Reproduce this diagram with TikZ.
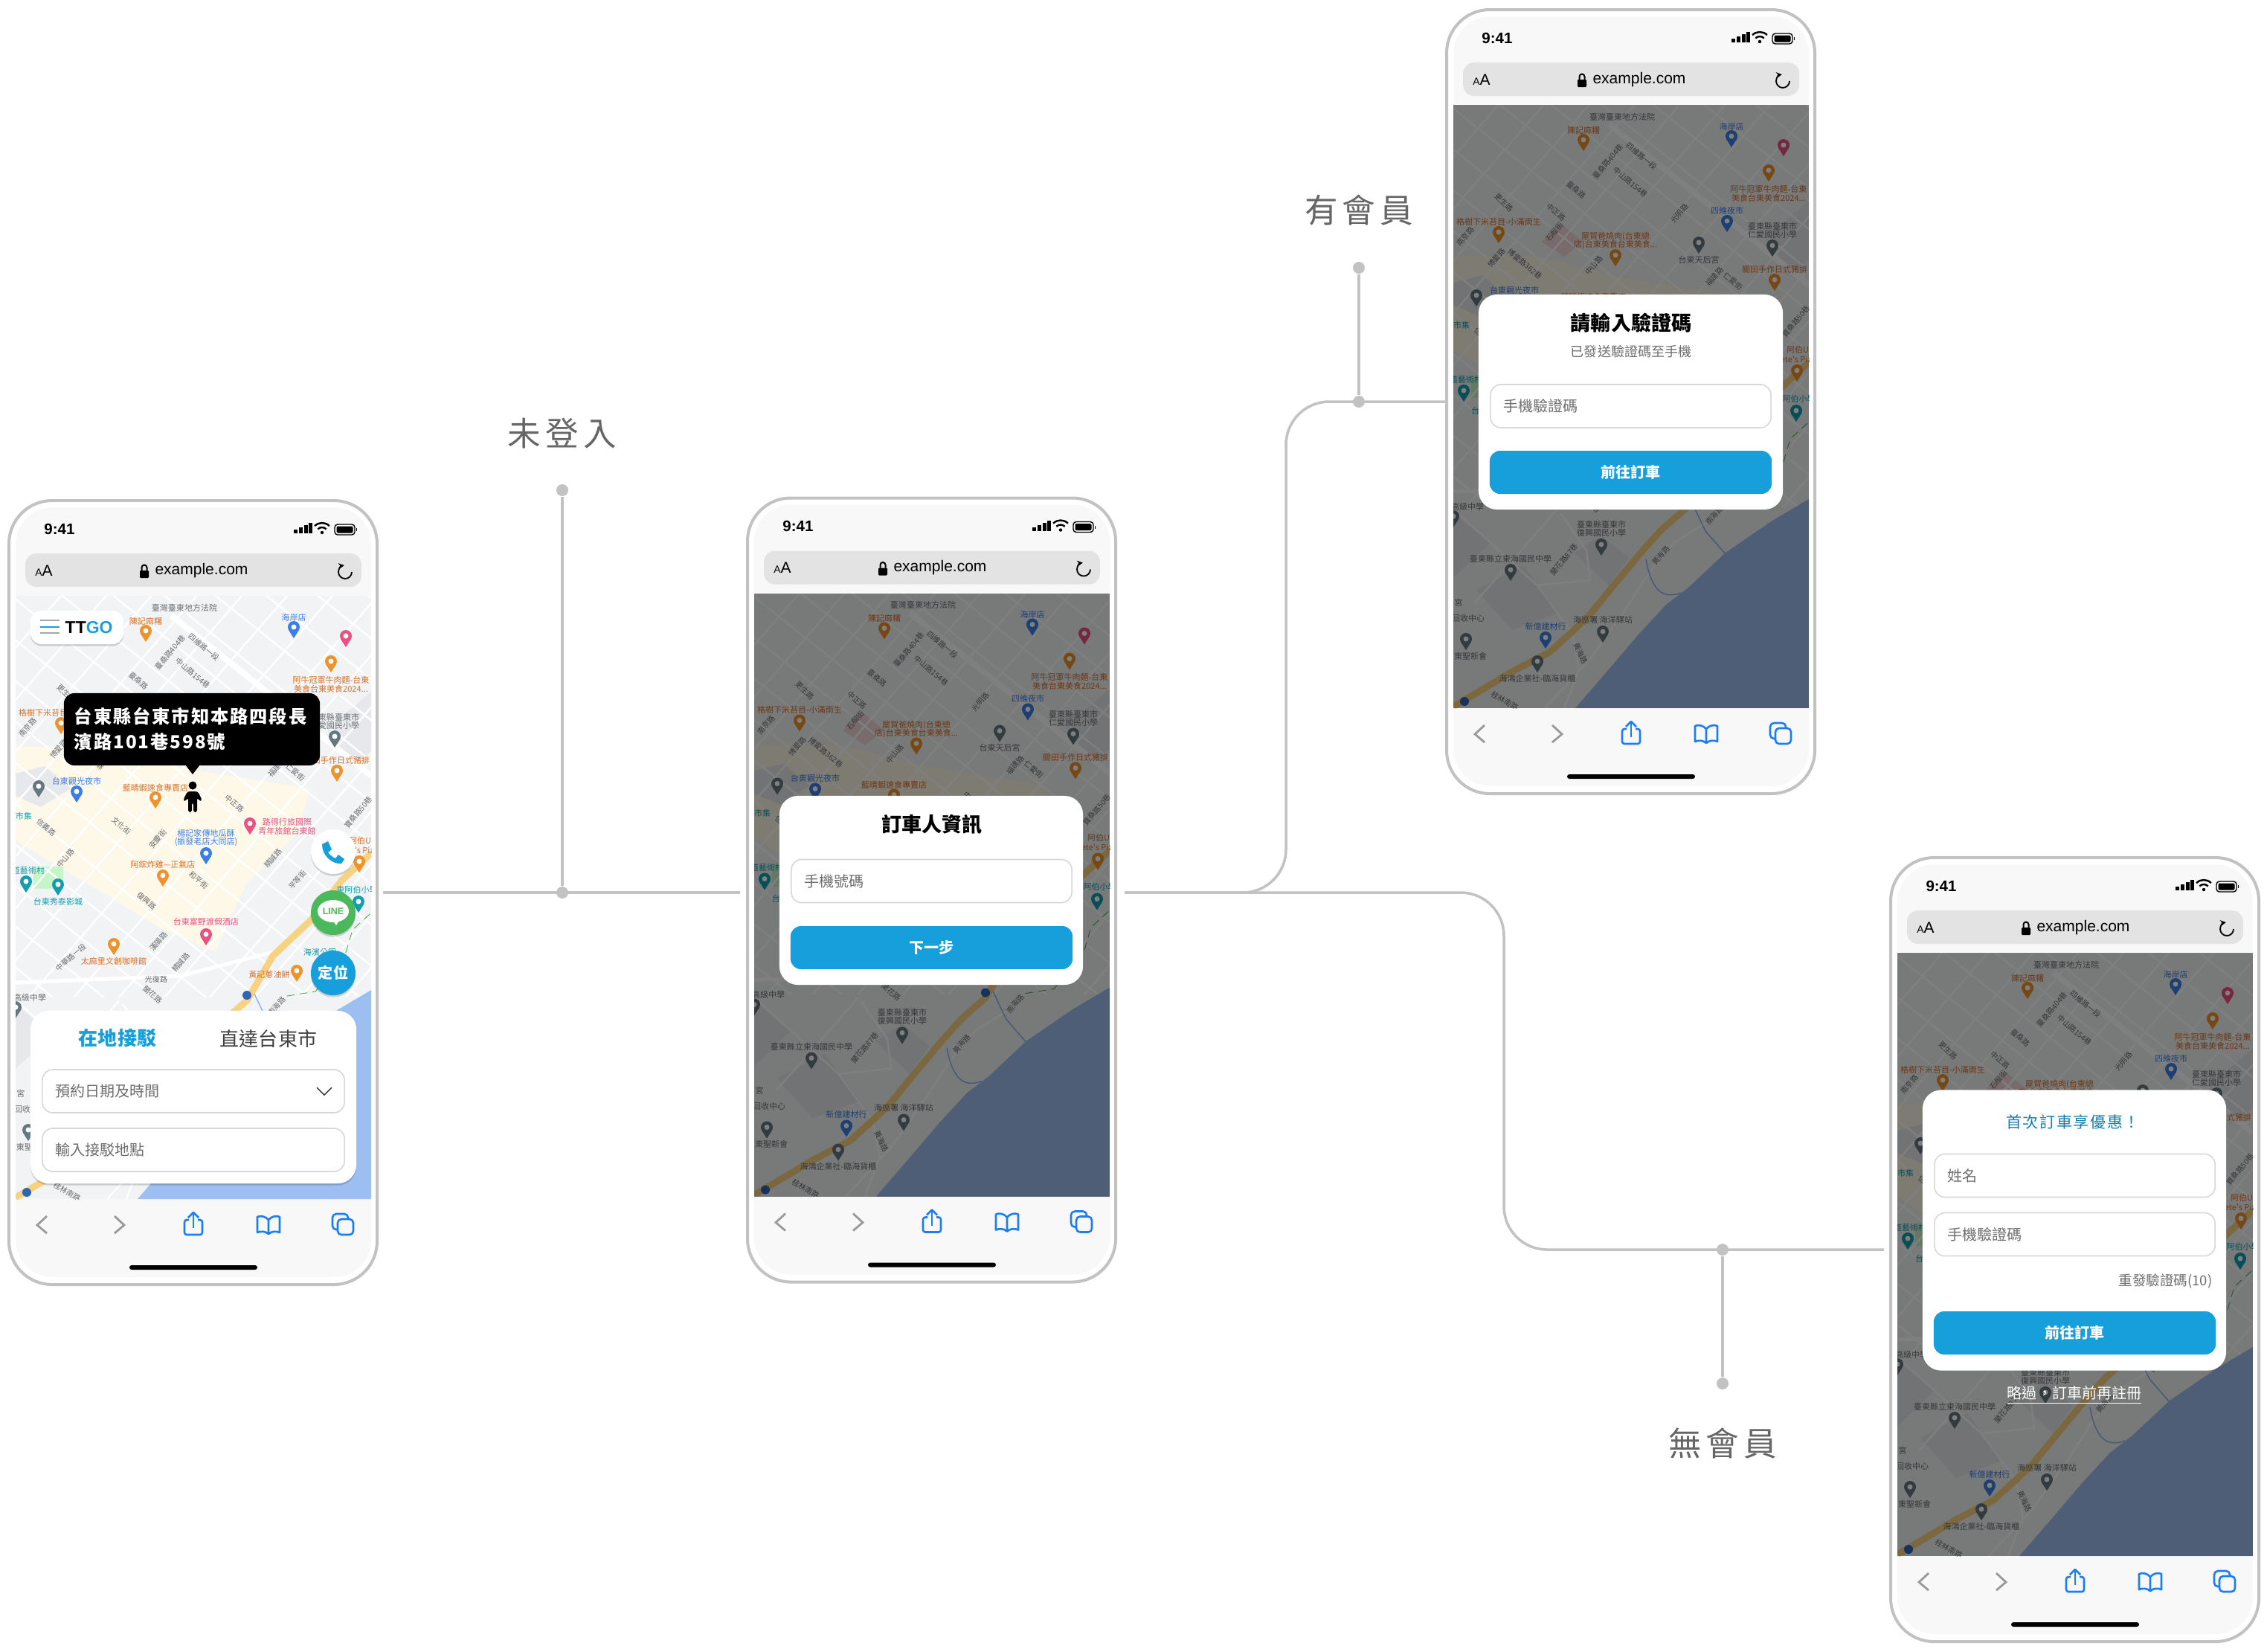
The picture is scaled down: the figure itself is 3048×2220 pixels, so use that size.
\documentclass[tikz,border=0pt]{standalone}
\usepackage{fontspec}
\usepackage{xcolor}
\usetikzlibrary{arrows.meta, shadows}
\setmainfont{Liberation Sans}
\newfontfamily\cjk{Noto Sans CJK TC}
\newfontfamily\cjkwide[LetterSpace=14]{Noto Sans CJK TC}
\newfontfamily\cjkpop[LetterSpace=8]{Noto Sans CJK TC}
\definecolor{linegray}{HTML}{C2C2C2}
\definecolor{labelgray}{HTML}{666666}
\definecolor{barwhite}{HTML}{F8F8F8}
\definecolor{urlgray}{HTML}{E3E3E3}
\definecolor{fieldgray}{HTML}{D8D8D8}
\definecolor{hintgray}{HTML}{6E6E6E}
\definecolor{btnblue}{HTML}{179FDC}
\definecolor{iconblue}{HTML}{1C7EF2}
\definecolor{linegreen}{HTML}{4CB85C}
\definecolor{landgray}{HTML}{F1F3F4}
\definecolor{blockgray}{HTML}{E6E8EB}
\definecolor{townyellow}{HTML}{FEF8E8}
\definecolor{seablue}{HTML}{9DBEF0}
\definecolor{roadgold}{HTML}{F8D283}
\definecolor{foodorange}{HTML}{EE922C}
\definecolor{textorange}{HTML}{D8702A}
\definecolor{shopblue}{HTML}{3B7FE6}
\definecolor{hotelpink}{HTML}{EC4F80}
\definecolor{placegray}{HTML}{66787F}
\definecolor{textgray}{HTML}{6A6E72}
\definecolor{parkteal}{HTML}{129EAF}
% sizes are given in pixels of the 3048 wide canvas
\newcommand{\fs}[1]{\fontsize{\fpeval{#1*0.2845}}{\fpeval{#1*0.34}}\selectfont}
\newcommand{\tdots}{...}
\tikzset{
  flow/.style={draw=linegray, line width=0.035cm},
  flowdot/.style={circle, fill=linegray, minimum size=0.16cm, inner sep=0},
  flowlabel/.style={font=\cjkwide\fs{44.5}, text=labelgray},
  softshadow/.style={drop shadow={shadow xshift=0cm, shadow yshift=-0.025cm, opacity=0.16, fill=black}},
  card/.style={fill=white, rounded corners=0.25cm, inner sep=0},
  field/.style={draw=fieldgray, line width=0.016cm, fill=white, rounded corners=0.14cm,
    minimum height=0.58cm, inner xsep=0.18cm, inner ysep=0, text width=3.41cm, align=left,
    font=\cjk\fs{20}, text=hintgray},
  button/.style={fill=btnblue, rounded corners=0.14cm, minimum width=3.79cm, minimum height=0.58cm,
    inner sep=0, font=\cjk\bfseries\fs{20}, text=white},
  cardtitle/.style={font=\cjk\bfseries\fs{27}, inner sep=0},
  roundbtn/.style={circle, minimum size=0.6cm, inner sep=0, softshadow},
  maplabel/.style={font=\cjk\fs{11}, inner sep=0},
  streetlabel/.style={font=\cjk\fs{10}, inner sep=0, text=textgray},
  street/.style={draw=white, line width=0.024cm},
  mainroad/.style={draw=white, line width=0.08cm},
  chevron/.style={draw=gray!80, line width=0.028cm},
  baricon/.style={draw=iconblue, line width=0.026cm, line join=round},
}
% the same town map sits under all four screens
\newcommand{\mapview}{
  \begin{scope}
    \clip (21,801) rectangle (499,1612);
    \fill[landgray] (21,801) rectangle (499,1612);
    \fill[townyellow] (21,1004) -- (130,1004) -- (260,1035) -- (417,1060) -- (400,1120) -- (330,1190)
      -- (290,1280) -- (220,1250) -- (21,1130) -- cycle;
    \fill[blockgray] (21,1070) -- (55,1085) -- (95,1060) -- (60,1030) -- (21,1040) -- cycle;
    \fill[blockgray] (440,980) -- (499,930) -- (499,1010) -- (470,1030) -- cycle;
    \fill[blockgray] (52,1453) -- (100,1507) -- (163,1483) -- (115,1420) -- cycle;
    \fill[blockgray] (184,1403) -- (230,1447) -- (257,1410) -- (220,1380) -- cycle;
    \fill[blockgray] (21,1437) -- (70,1390) -- (21,1350) -- cycle;
    \fill[green!18!landgray] (45,1165) rectangle (85,1195);
    \fill[red!12!landgray] (140,985) -- (165,960) -- (195,985) -- (170,1005) -- cycle;
    % street grid, upper part only
    \begin{scope}
      \clip (21,801) rectangle (499,1340);
      \foreach \k in {-380,-325,...,810}
        \draw[street] (0,784+\k) -- (520,1200+\k);
      \foreach \m in {0,70,...,1360}
        \draw[street] (0,825+\m) -- (520,227+\m);
    \end{scope}
    \draw[mainroad] (230,827) -- (499,1043);
    \draw[mainroad, line width=0.05cm] (21,1321) -- (243,1312) -- (367,1280);
    \draw[street] (24,1347) -- (134,1447) -- (180,1510) -- (190,1560) -- (170,1612);
    \draw[street] (360,1363) -- (317,1390) -- (284,1430) -- (250,1483) -- (204,1547) -- (144,1612);
    \draw[street] (50,1470) -- (130,1380) -- (160,1345);
    \draw[street] (134,1447) -- (205,1440) -- (200,1400) -- (165,1350);
    % river and trail
    \draw[shopblue!60, line width=0.014cm] (340,1332) -- (360,1374) -- (387,1405);
    \draw[shopblue!60, line width=0.014cm] (280,1412) .. controls (287,1450) and (300,1467) .. (327,1457);
    \draw[green!55!black!70, line width=0.009cm, densely dashed] (497,1229) -- (474,1250) -- (464,1284) -- (424,1333) -- (380,1340);
    \draw[draw=roadgold, line width=0.09cm] (499,1147) -- (460,1183) -- (417,1238) -- (367,1285) -- (332,1345)
      -- (300,1373) -- (274,1402) -- (234,1450) -- (204,1487) -- (180,1510) -- (150,1537) -- (100,1563)
      -- (60,1587) -- (21,1610);
    \fill[seablue] (499,1331) -- (450,1360) -- (387,1403) -- (337,1450) -- (307,1473) -- (270,1513)
      -- (230,1560) -- (185,1612) -- (499,1612) -- cycle;
    % map texts
    \foreach \lx/\ly/\lc/\lt [count=\n] in {
      248/817/textgray/臺灣臺東地方法院, 196/835/textorange/陳記麻糬, 395/830/shopblue/海岸店,
      445/914/textorange/阿牛冠軍牛肉麵-台東, 445/926/textorange/美食台東美食2024\tdots,
      389/943/shopblue/四維夜市, 450/964/textgray/臺東縣臺東市, 450/975/textgray/仁愛國民小學,
      82/958/textorange/格樹下米苔目-小滿雨生, 239/978/textorange/屋賀爸燒肉(台東總,
      239/989/textorange/店)台東美食台東美食\tdots, 351/1009/textgray/台東天后宮,
      453/1022/textorange/關田手作日式豬排, 103/1050/shopblue/台東觀光夜市,
      209/1059/textorange/藍晴蝦速食專賣店, 32/1097/parkteal/市集, 38/1170/parkteal/道藝術村,
      277/1120/shopblue/楊記家傳地瓜酥, 277/1132/shopblue/(振發老店大同店),
      386/1105/hotelpink/路得行旅國際, 386/1117/hotelpink/青年旅館台東館,
      219/1162/textorange/阿鋐炸雞—正氣店, 78/1212/parkteal/台東秀泰影城,
      277/1239/hotelpink/台東富野渡假酒店, 153/1292/textorange/太麻里文創咖啡館,
      362/1310/textorange/黃記蔥油餅, 430/1280/parkteal/海濱公園, 480/1196/parkteal/東阿伯小學,
      484/1130/textorange/阿伯U, 484/1143/textorange/Pete's Pizza,
      40/1341/textgray/高級中學, 220/1365/textgray/臺東縣臺東市, 220/1376/textgray/復興國民小學,
      98/1411/textgray/臺東縣立東海國民中學, 28/1470/textgray/宮, 41/1491/textgray/回收中心,
      44/1542/textgray/東聖新會, 145/1502/shopblue/新億建材行, 222/1493/textgray/海巡署 海洋驛站,
      134/1572/textgray/海鴻企業社-臨海貨櫃}
      \node[maplabel, text=\lc] (lbl\n) at (\lx,\ly) {\lt};
    \foreach \sx/\sy/\sr/\st [count=\n] in {
      274/870/-40/四維路一段, 259/905/-40/中山路154巷, 229/877/50/臺桑路404巷, 186/915/-40/臺桑路,
      89/932/-45/更生路, 159/945/-40/中正路, 157/972/50/石榴街, 325/947/50/光明路, 210/1017/50/中山路,
      79/1007/50/博愛路, 117/1015/-40/博愛路362巷, 37/978/50/南京路, 372/1032/50/福建路, 397/1038/-40/仁愛街,
      315/1080/-40/中正路, 482/1092/50/寶桑路50巷, 163/1110/-40/文化街, 212/1128/50/安慶街, 62/1112/-40/信義路,
      88/1154/50/中山路, 367/1154/50/精誠路, 267/1183/-40/和平街, 400/1183/50/平等街, 197/1211/-40/復興路,
      213/1266/50/漢陽路, 243/1294/50/精誠路, 95/1287/40/中華路一段, 210/1317/0/光復路, 205/1337/-40/蘭花路,
      372/1353/50/南海路, 300/1407/50/黃海路, 192/1538/-65/黃海路, 170/1412/50/蘭花路87巷, 90/1602/-30/桂林南路}
      \node[streetlabel, rotate=\sr] (st\n) at (\sx,\sy) {\st};
    % pins
    \foreach \px/\py/\pc in {
      196/851/foodorange, 395/846/shopblue, 465/858/hotelpink, 445/892/foodorange, 389/960/shopblue,
      450/993/placegray, 82/975/foodorange, 239/1006/foodorange, 351/989/placegray, 453/1039/foodorange,
      103/1067/shopblue, 52/1060/placegray, 209/1075/foodorange, 35/1188/parkteal, 277/1150/shopblue,
      336/1110/hotelpink, 219/1180/foodorange, 78/1192/parkteal, 277/1259/hotelpink, 153/1272/foodorange,
      399/1308/foodorange, 483/1161/foodorange, 482/1215/parkteal, 21/1357/placegray, 220/1395/placegray,
      98/1429/placegray, 38/1522/placegray, 145/1520/shopblue, 222/1512/placegray, 134/1552/placegray}
    {
      \fill[\pc] (\px,\py-3) circle[radius=8];
      \fill[\pc] (\px-7,\py+1) -- (\px,\py+12) -- (\px+7,\py+1) -- cycle;
      \fill[white] (\px,\py-3) circle[radius=3.5];
    }
    % highway badges
    \foreach \bx/\by in {332/1338, 36/1603}
      \fill[shopblue!80!black] (\bx,\by) circle[radius=6];
  \end{scope}
}
% frame, bars and the icons that all four phones share
\newcommand{\phonebase}[1]{
  \draw[draw=linegray, line width=0.04cm, fill=white, rounded corners=0.58cm] (12,673) rectangle (507,1727);
  \fill[barwhite, rounded corners=0.5cm] (21,682) rectangle (499,1717);
  \mapview
  \fill[black, opacity=#1] (21,801) rectangle (499,1612);
  % status line
  \node[font=\bfseries\fs{20.5}, inner sep=0] (clock) at (80,711) {9:41};
  \foreach \bx/\bh in {395/5, 402/8, 409/11, 415/14}
    \fill[black] (\bx,717) rectangle (\bx+4.5,717-\bh);
  \fill[black] (433,716) circle[radius=2.2];
  \draw[line width=0.024cm] (433,717) ++(-135:8) arc[start angle=-135, end angle=-45, radius=8];
  \draw[line width=0.024cm] (433,717) ++(-135:14) arc[start angle=-135, end angle=-45, radius=14];
  \draw[line width=0.014cm, rounded corners=0.04cm] (450,705) rectangle (477,719);
  \fill[black, rounded corners=0.02cm] (452.5,707.5) rectangle (474.5,716.5);
  \fill[black] (478.5,710) rectangle (480,714);
  % address bar
  \fill[urlgray, rounded corners=0.15cm] (34,744) rectangle (486,789);
  \node[inner sep=0] (aa) at (59,767) {\fs{14}A\fs{21}A};
  \fill[black, rounded corners=0.012cm] (188,767) rectangle (200,777);
  \draw[line width=0.02cm] (190.5,767) -- (190.5,763) arc[start angle=180, end angle=360, radius=3.5] -- (197.5,767);
  \node[font=\fs{21}, inner sep=0] (url) at (271,767) {example.com};
  \draw[line width=0.018cm, -{Stealth[length=0.075cm, width=0.08cm]}] (473,769) arc[start angle=0, end angle=262, radius=9];
  % tool bar
  \draw[chevron] (63,1635) -- (50,1647) -- (63,1658);
  \draw[chevron] (154,1635) -- (167,1647) -- (154,1658);
  \draw[baricon, rounded corners=0.03cm] (254,1640) -- (248,1640) -- (248,1660) -- (272,1660) -- (272,1640) -- (266,1640);
  \draw[baricon] (260,1651) -- (260,1631);
  \draw[baricon] (253,1637) -- (260,1630) -- (267,1637);
  \draw[baricon] (361,1640) .. controls (357,1635) and (350,1634) .. (346,1636) -- (346,1657)
    .. controls (350,1655) and (357,1655) .. (361,1659) .. controls (365,1655) and (372,1655) .. (376,1657)
    -- (376,1636) .. controls (372,1634) and (365,1635) .. (361,1640) -- (361,1659);
  \draw[baricon, rounded corners=0.05cm] (447,1632) rectangle (468,1653);
  \draw[baricon, fill=barwhite, rounded corners=0.05cm] (454,1639) rectangle (475,1660);
  \fill[black, rounded corners=0.03cm] (174,1701) rectangle (346,1707);
}

\begin{document}
\begin{tikzpicture}[x=0.01cm, y=-0.01cm]
  \useasboundingbox (0,0) rectangle (3048,2220);
  \fill[white] (0,0) rectangle (3048,2220);

  % connectors
  \coordinate (outA) at (515,1200);
  \coordinate (inB) at (995,1200);
  \coordinate (outB) at (1512,1200);
  \coordinate (inC) at (1945,540);
  \coordinate (bendC) at (1729,870);
  \coordinate (inD) at (2533,1680);
  \coordinate (bendD) at (2022,1440);
  \node[flowdot] (dotA) at (756,1200) {};
  \node[flowdot] (tipA) at (756,659) {};
  \node[flowdot] (dotC) at (1827,540) {};
  \node[flowdot] (tipC) at (1827,360) {};
  \node[flowdot] (dotD) at (2316,1680) {};
  \node[flowdot] (tipD) at (2316,1860) {};
  \node[flowlabel] (labelA) at (756,583) {未登入};
  \node[flowlabel] (labelC) at (1827,283) {有會員};
  \node[flowlabel] (labelD) at (2316,1940) {無會員};
  \draw[flow] (outA) -- (inB);
  \draw[flow] (dotA) -- (tipA);
  \draw[flow] (dotC) -- (tipC);
  \draw[flow] (dotD) -- (tipD);
  \draw[flow, rounded corners=0.58cm] (outB) -| (bendC) |- (inC);
  \draw[flow, rounded corners=0.58cm] (outB) -| (bendD) |- (inD);

  % address search screen
  \begin{scope}[name prefix=a-]
    \phonebase{0}
    \node[fill=white, rounded corners=0.15cm, minimum width=1.25cm, minimum height=0.45cm, inner sep=0, softshadow] (logo) at (103.5,843.5) {};
    \draw[line width=0.012cm, gray!70] (54,834) -- (80,834);
    \draw[line width=0.012cm, btnblue] (54,843) -- (80,843);
    \draw[line width=0.012cm, gray!70] (54,851) -- (80,851);
    \node[font=\bfseries\fs{23}, inner sep=0, anchor=west] (brand) at (87,844) {TT\textcolor{btnblue}{GO}};
    % address bubble
    \fill[black] (249,1028) -- (259,1041) -- (269,1028) -- cycle;
    \node[fill=black, rounded corners=0.14cm, minimum width=3.44cm, minimum height=0.97cm, inner sep=0, text=white,
      text width=3.16cm, align=left, font=\cjkpop\bfseries\fontsize{6.9}{9.7}\selectfont] (bubble) at (258,980.5)
      {台東縣台東市知本路四段長\\濱路101巷598號};
    \fill[black] (259,1056) circle[radius=5.5];
    \fill[black, rounded corners=0.03cm] (252,1064) -- (266,1064) -- (272,1076) -- (268,1077) -- (265,1072)
      -- (265,1092) -- (260,1092) -- (260,1079) -- (258,1079) -- (258,1092) -- (253,1092) -- (253,1072)
      -- (250,1077) -- (246,1076) -- cycle;
    % side buttons
    \node[roundbtn, fill=white] (call) at (448,1145) {};
    \fill[btnblue] (433,1135) -- (441,1131) -- (446,1142) -- (441,1146) .. controls (444,1150) and (447,1152) .. (451,1154)
      -- (455,1149) -- (463,1155) -- (459,1161) .. controls (446,1162) and (433,1150) .. (433,1135);
    \node[roundbtn, fill=linegreen] (line) at (448,1227) {};
    \fill[white] (448,1225) ellipse[x radius=21, y radius=15];
    \fill[white] (446,1235) -- (452,1244) -- (458,1234) -- cycle;
    \node[font=\bfseries\fs{12.5}, text=linegreen, inner sep=0] (linetxt) at (448,1225) {LINE};
    \node[roundbtn, fill=btnblue, text=white, font=\cjk\bfseries\fs{20}] (locate) at (448,1308) {定位};
    % booking card
    \node[card, minimum width=4.38cm, minimum height=2.32cm, softshadow] (card) at (260,1475) {};
    \node[font=\cjk\bfseries\fs{26}, text=btnblue, inner sep=0] (tablocal) at (158,1396) {在地接駁};
    \node[font=\cjk\fs{26}, text=black!75, inner sep=0] (tabdirect) at (361,1396) {直達台東市};
    \node[field, text width=3.7cm] (when) at (260,1467) {預約日期及時間};
    \node[field, text width=3.7cm] (where) at (260,1546) {輸入接駁地點};
    \draw[line width=0.014cm, black!80] (426,1462) -- (436,1472) -- (446,1462);
  \end{scope}

  % phone number screen
  \begin{scope}[shift={(993,-3.5)}, name prefix=b-]
    \phonebase{0.5}
    \node[card, minimum width=4.08cm, minimum height=2.54cm] (card) at (259,1200.5) {};
    \node[cardtitle] (title) at (260,1112) {訂車人資訊};
    \node[field] (phone) at (259.5,1188) {手機號碼};
    \node[button] (next) at (259.5,1277.5) {下一步};
  \end{scope}

  % member screen
  \begin{scope}[shift={(1933,-660)}, name prefix=c-]
    \phonebase{0.5}
    \node[card, minimum width=4.09cm, minimum height=2.89cm] (card) at (259.5,1200.5) {};
    \node[cardtitle] (title) at (260,1094) {請輸入驗證碼};
    \node[font=\cjk\fs{18}, text=hintgray, inner sep=0] (sent) at (260,1133) {已發送驗證碼至手機};
    \node[field] (code) at (259.5,1206) {手機驗證碼};
    \node[button] (go) at (259.5,1295) {前往訂車};
  \end{scope}

  % new member screen
  \begin{scope}[shift={(2530,480)}, name prefix=d-]
    \phonebase{0.5}
    \node[card, minimum width=4.08cm, minimum height=3.77cm] (card) at (259,1174) {};
    \node[font=\cjkpop\fs{21}, text=btnblue!80!black, inner sep=0] (title) at (257,1028) {首次訂車享優惠！};
    \node[field] (name) at (259.5,1100.5) {姓名};
    \node[field] (code) at (259.5,1179.5) {手機驗證碼};
    \node[font=\cjk\fs{18.5}, text=hintgray, inner sep=0, anchor=east] (resend) at (445,1242) {重發驗證碼(10)};
    \node[button] (go) at (259.5,1312) {前往訂車};
    \node[font=\cjk\fs{20}, text=white, inner sep=0] (skip) at (259,1396) {\underline{略過，訂車前再註冊}};
  \end{scope}
\end{tikzpicture}
\end{document}
